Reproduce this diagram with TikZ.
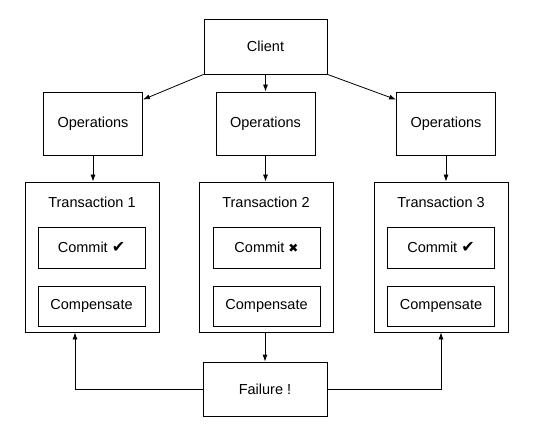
\documentclass[tikz,border=0pt]{standalone}
\usepackage{fontspec}
\setmainfont{Liberation Sans}
\newfontfamily\symfont{DejaVu Sans}
\usetikzlibrary{arrows.meta,positioning}

\begin{document}
\begin{tikzpicture}[x=1pt,y=-1pt,
    box/.style={draw,line width=0.8pt,inner sep=0pt,font=\fontsize{14.5}{17}\selectfont},
    conn/.style={line width=0.8pt,-{Latex[length=7pt,width=5pt]}}]
    \useasboundingbox (0,0) rectangle (556,443);
    % Client
    \node[box,minimum width=123,minimum height=55] (client) at (265.5,46.5) {Client};
    % Operations
    \node[box,minimum width=99,minimum height=63] (ops1) at (93,123.5) {Operations};
    \node[box,minimum width=99,minimum height=63] (ops2) at (265.5,123.5) {Operations};
    \node[box,minimum width=99,minimum height=63] (ops3) at (446,123.5) {Operations};
    % Transactions
    \node[box,minimum width=134,minimum height=150] (trans1) at (92,257) {};
    \node[box,minimum width=134,minimum height=150] (trans2) at (266,257) {};
    \node[box,minimum width=134,minimum height=150] (trans3) at (441,257) {};
    \node[font=\fontsize{14.5}{17}\selectfont] (title1) at (92,202) {Transaction 1};
    \node[font=\fontsize{14.5}{17}\selectfont] (title2) at (266,202) {Transaction 2};
    \node[font=\fontsize{14.5}{17}\selectfont] (title3) at (441,202) {Transaction 3};
    % Commit / Compensate
    \node[box,minimum width=107,minimum height=41] (commit1) at (91.5,247.5) {Commit {\symfont\fontsize{16}{15}\selectfont ✔}};
    \node[box,minimum width=107,minimum height=41] (commit2) at (266.5,247.5) {Commit {\symfont\fontsize{12}{15}\selectfont ✖}};
    \node[box,minimum width=107,minimum height=41] (commit3) at (441,247.5) {Commit {\symfont\fontsize{16}{15}\selectfont ✔}};
    \node[box,minimum width=107,minimum height=40] (comp1) at (91.5,306) {Compensate};
    \node[box,minimum width=107,minimum height=40] (comp2) at (266.5,306) {Compensate};
    \node[box,minimum width=107,minimum height=40] (comp3) at (441,306) {Compensate};
    % Failure
    \node[box,minimum width=124,minimum height=54] (fail) at (265,389) {Failure !};
    % Arrows
    \draw[conn] (client.south west) -- ([yshift=-8pt]ops1.north east);
    \draw[conn] (client.south) -- (client.south |- ops2.north);
    \draw[conn] (client.south east) -- ([yshift=-8pt]ops3.north west);
    \draw[conn] (ops1.south) -- (ops1.south |- trans1.north);
    \draw[conn] (ops2.south) -- (ops2.south |- trans2.north);
    \draw[conn] (ops3.south) -- (ops3.south |- trans3.north);
    \draw[conn] (fail.north |- trans2.south) -- (fail.north);
    \draw[conn] (fail.west) -| ([xshift=-17pt]trans1.south);
    \draw[conn] (fail.east) -| (trans3.south);
\end{tikzpicture}
\end{document}
